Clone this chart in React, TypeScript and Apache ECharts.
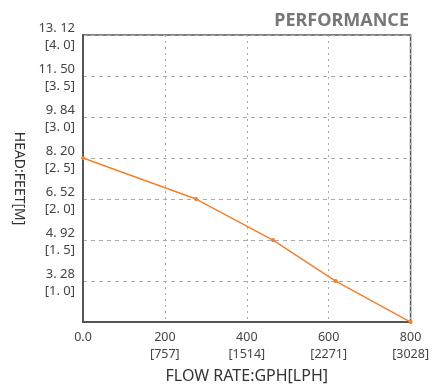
import React, { useEffect, useRef } from "react";
import * as echarts from "echarts";

const flowGph = [0, 276, 464, 617, 800];
const headM = [2.5, 2.0, 1.5, 1.0, 0.5];

const yTickM = [1.0, 1.5, 2.0, 2.5, 3.0, 3.5, 4.0];
const yTickFeet = ["3. 28", "4. 92", "6. 52", "8. 20", "9. 84", "11. 50", "13. 12"];
const yTickMLabel = ["1. 0", "1. 5", "2. 0", "2. 5", "3. 0", "3. 5", "4. 0"];

const xTickGph = [0, 200, 400, 600, 800];
const xTickGphLabel = ["0.0", "200", "400", "600", "800"];
const xTickLph = ["", "757", "1514", "2271", "3028"];

const FONT = "Noto Sans";

export default function App() {
  const ref = useRef<HTMLDivElement>(null);
  useEffect(() => {
    if (!ref.current) return;
    const chart = echarts.init(ref.current, undefined, { renderer: "svg" });
    chart.setOption({
      animation: false,
      title: {
        text: "PERFORMANCE",
        right: 18,
        top: 5,
        textStyle: { fontFamily: FONT, fontSize: 18, fontWeight: "bold", color: "#777" },
      },
      grid: {
        left: 83,
        right: 19,
        top: 35,
        bottom: 61,
        show: true,
        borderColor: "#555",
        borderWidth: 1.5,
      },
      xAxis: {
        type: "value",
        min: 0,
        max: 800,
        interval: 200,
        name: "FLOW RATE:GPH[LPH]",
        nameLocation: "middle",
        nameGap: 42,
        nameTextStyle: { fontFamily: FONT, fontSize: 16, color: "#333" },
        axisLine: { show: true, lineStyle: { color: "#555", width: 2 } },
        axisTick: { show: false },
        axisLabel: {
          fontFamily: FONT,
          fontSize: 12.5,
          color: "#444",
          lineHeight: 17,
          margin: 6,
          verticalAlign: "top",
          formatter: (v: number) => {
            const i = xTickGph.indexOf(v);
            if (i < 0) return "";
            return xTickLph[i] ? `${xTickGphLabel[i]}\n[${xTickLph[i]}]` : xTickGphLabel[i];
          },
        },
        splitLine: { show: true, lineStyle: { color: "#aaa", type: [2, 4], width: 1 } },
      },
      yAxis: {
        type: "value",
        min: 0.5,
        max: 4.0,
        interval: 0.5,
        name: "HEAD:FEET[M]",
        nameLocation: "middle",
        nameRotate: -90,
        nameGap: 52,
        nameTextStyle: { fontFamily: FONT, fontSize: 14, color: "#333" },
        axisLine: { show: true, lineStyle: { color: "#555", width: 2 } },
        axisTick: { show: false },
        axisLabel: {
          fontFamily: FONT,
          fontSize: 13,
          color: "#444",
          lineHeight: 17,
          margin: 8,
          formatter: (v: number) => {
            const i = yTickM.findIndex((m) => Math.abs(m - v) < 1e-6);
            if (i < 0) return "";
            return `${yTickFeet[i]}\n[${yTickMLabel[i]}]`;
          },
        },
        splitLine: { show: true, lineStyle: { color: "#aaa", type: [4, 4], width: 1 } },
      },
      series: [
        {
          type: "line",
          data: flowGph.map((x, i) => [x, headM[i]]),
          symbol: "circle",
          symbolSize: 4,
          lineStyle: { color: "#F0812E", width: 1.5 },
          itemStyle: { color: "#F0812E" },
        },
      ],
    });
    return () => chart.dispose();
  }, []);
  return (
    <div
      ref={ref}
      style={{ position: "fixed", left: 0, top: 0, width: 432, height: 388 }}
    />
  );
}
